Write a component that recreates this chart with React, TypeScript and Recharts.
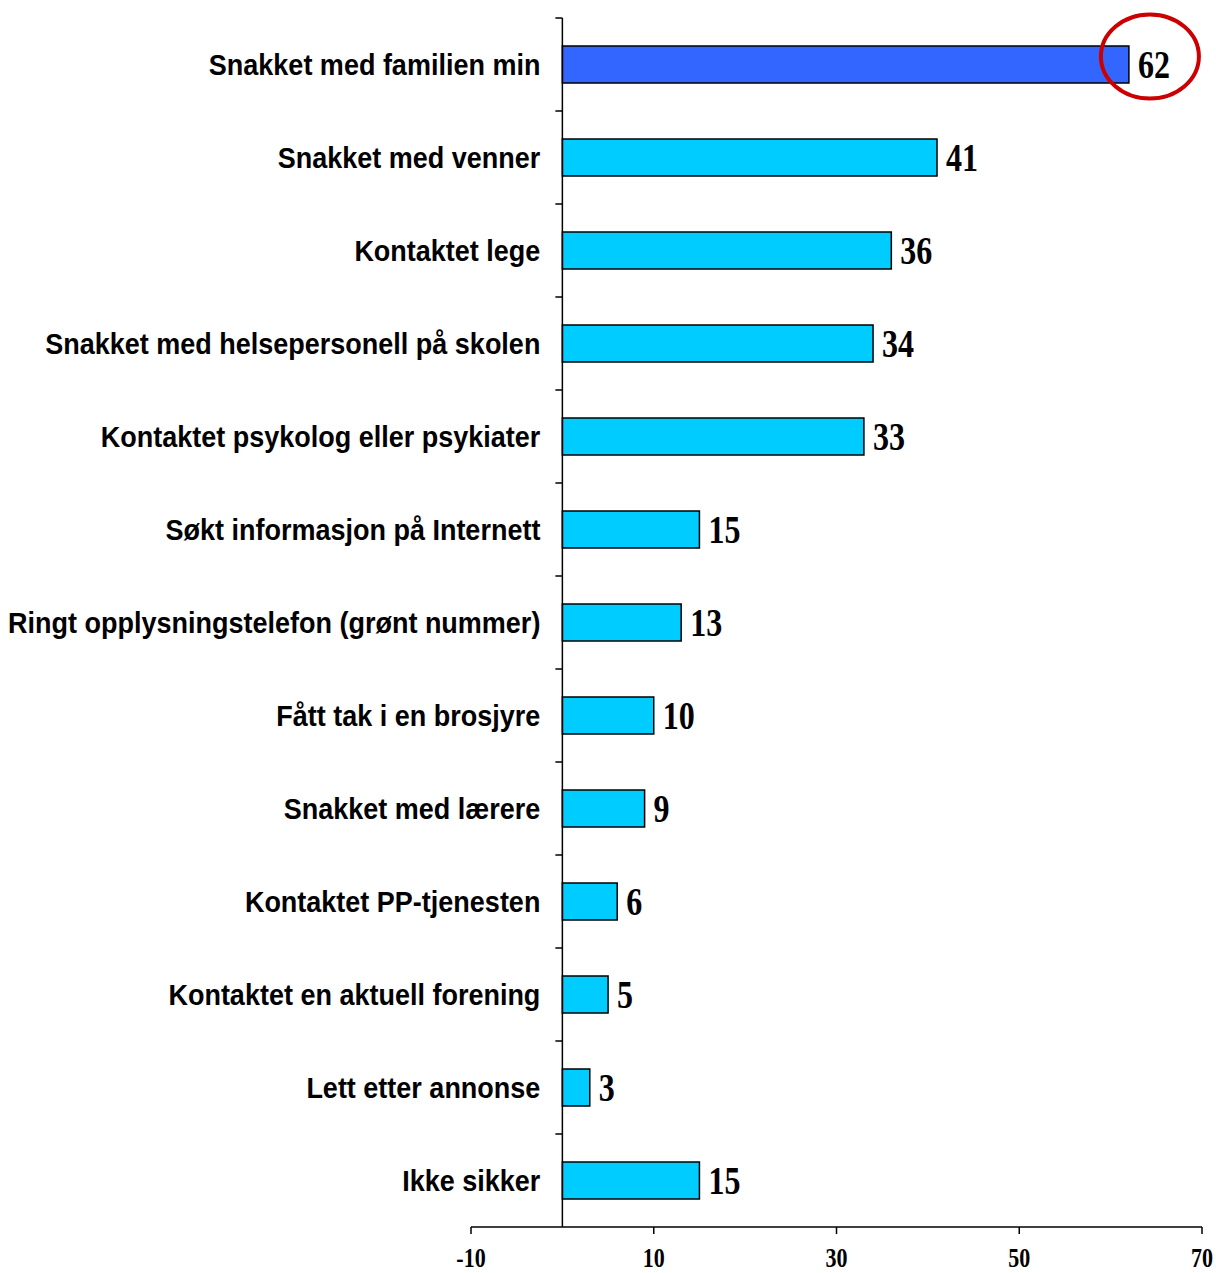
import React from 'react';
import { BarChart, Bar, XAxis, YAxis, Cell, LabelList, ReferenceLine } from 'recharts';

const categories = [
  'Snakket med familien min',
  'Snakket med venner',
  'Kontaktet lege',
  'Snakket med helsepersonell på skolen',
  'Kontaktet psykolog eller psykiater',
  'Søkt informasjon på Internett',
  'Ringt opplysningstelefon (grønt nummer)',
  'Fått tak i en brosjyre',
  'Snakket med lærere',
  'Kontaktet PP-tjenesten',
  'Kontaktet en aktuell forening',
  'Lett etter annonse',
  'Ikke sikker',
];
const values = [62, 41, 36, 34, 33, 15, 13, 10, 9, 6, 5, 3, 15];
const xTicks = [-10, 10, 30, 50, 70];
const xDomain: [number, number] = [-10, 70];

const data = categories.map((name, i) => ({ name, value: values[i] }));

const W = 1208;
const H = 1265;
const Y_AXIS_W = 60;
const MARGIN = { top: 10, right: 14, left: 463 - Y_AXIS_W, bottom: 6 };
const X_AXIS_H = 40;
const plotLeft = MARGIN.left + Y_AXIS_W;
const plotWidth = W - plotLeft - MARGIN.right;
const plotHeight = H - MARGIN.top - MARGIN.bottom - X_AXIS_H;
const zeroX = plotLeft + ((0 - xDomain[0]) / (xDomain[1] - xDomain[0])) * plotWidth;
const band = plotHeight / categories.length;

const SERIF = "'Liberation Serif', 'Times New Roman', serif";
const SANS = "'Liberation Sans', Arial, sans-serif";

const CategoryTick = (props: any) => {
  const { y, payload } = props;
  return (
    <g>
      <line x1={zeroX - 7} x2={zeroX} y1={y - band / 2} y2={y - band / 2} stroke="#000" strokeWidth={1.5} />
      <text
        x={zeroX - 22}
        y={y}
        textAnchor="end"
        dominantBaseline="central"
        fontFamily={SANS}
        fontWeight="bold"
        fontSize={27}
        fill="#000"
        transform={`translate(0 ${y}) scale(1 1.1) translate(0 ${-y})`}
      >
        {payload.value}
      </text>
    </g>
  );
};

const NumberTick = (props: any) => {
  const { x, y, payload } = props;
  const cy = y + 22;
  return (
    <text
      x={x}
      y={cy}
      textAnchor="middle"
      dominantBaseline="central"
      fontFamily={SERIF}
      fontWeight="bold"
      fontSize={22}
      fill="#000"
      transform={`translate(0 ${cy}) scale(1 1.25) translate(0 ${-cy})`}
    >
      {payload.value}
    </text>
  );
};

const ValueLabel = (props: any) => {
  const x = Number(props.x);
  const y = Number(props.y);
  const w = Number(props.width);
  const h = Number(props.height);
  const tx = x + w + 9;
  const cy = y + h / 2;
  return (
    <g>
      {props.index === 0 && (
        <ellipse cx={tx + 12} cy={cy - 8} rx={49} ry={42} fill="none" stroke="#CC0000" strokeWidth={4} />
      )}
      <text
        x={tx}
        y={cy}
        dominantBaseline="central"
        fontFamily={SERIF}
        fontWeight="bold"
        fontSize={32}
        fill="#000"
        transform={`translate(0 ${cy}) scale(1 1.25) translate(0 ${-cy})`}
      >
        {props.value}
      </text>
    </g>
  );
};

export default function App() {
  return (
    <div style={{ padding: '8px 0 0 8px', width: W, height: H, overflow: 'hidden' }}>
      <style>{'body{margin:0;overflow:hidden}'}</style>
      <BarChart width={W} height={H} data={data} layout="vertical" margin={MARGIN}>
        <XAxis
          type="number"
          domain={xDomain}
          ticks={xTicks}
          interval={0}
          height={X_AXIS_H}
          axisLine={{ stroke: '#000', strokeWidth: 1.5 }}
          tickLine={{ stroke: '#000', strokeWidth: 1.5 }}
          tickSize={7}
          tick={<NumberTick />}
        />
        <YAxis
          type="category"
          dataKey="name"
          width={Y_AXIS_W}
          axisLine={false}
          tickLine={false}
          interval={0}
          tick={<CategoryTick />}
        />
        <ReferenceLine x={0} stroke="#000" strokeWidth={1.5} />
        <Bar dataKey="value" barSize={37} stroke="#000" strokeWidth={1.5} isAnimationActive={false}>
          {data.map((d, i) => (
            <Cell key={d.name} fill={i === 0 ? '#3366FF' : '#00CCFF'} />
          ))}
          <LabelList dataKey="value" content={<ValueLabel />} />
        </Bar>
      </BarChart>
    </div>
  );
}
